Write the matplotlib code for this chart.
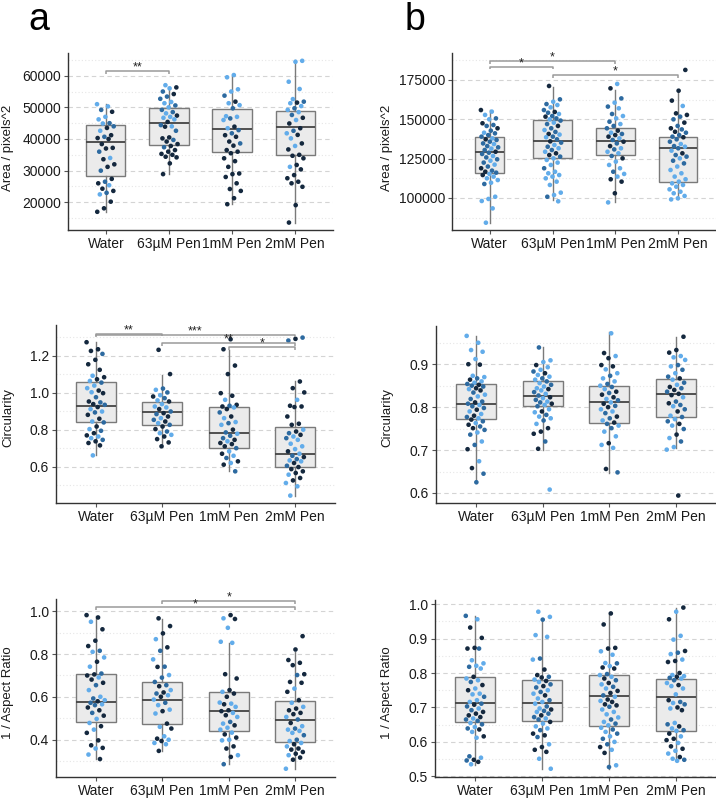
import numpy as np
import matplotlib
matplotlib.use("Agg")
import matplotlib.pyplot as plt

plt.rcParams['font.family'] = ['Liberation Sans', 'DejaVu Sans']

groups = ['Water', '63µM Pen', '1mM Pen', '2mM Pen']

# ---- panel a, area ----
area_a = [
    [51000, 50300, 49200, 48600, 47000, 46200, 45000, 44900, 44000, 43500, 42600, 41200, 40700, 40300, 40000,
     38400, 37200, 37000, 36000, 34000, 33600, 32000, 31200, 30000, 27400, 26500, 26000, 25400, 24300, 23600,
     23000, 22500, 20200, 18100, 17000],
    [57000, 56300, 56000, 55000, 54200, 53400, 52700, 51700, 51300, 50600, 50000, 49200, 48500, 48100, 47400,
     47000, 46700, 46200, 45400, 44400, 44000, 43900, 42600, 40500, 40200, 39700, 39200, 38400, 37800, 37400,
     36500, 36000, 35300, 35000, 34400, 34200, 32300, 28900],
    [60200, 59500, 55700, 55000, 53700, 51800, 51300, 50700, 49700, 47200, 47000, 46500, 46000, 43900, 43400,
     42800, 41800, 41200, 40700, 39200, 38600, 37900, 36500, 36000, 35500, 33900, 33000, 31200, 29100, 28900,
     28000, 26000, 24200, 23600, 21300, 19400],
    [64700, 64400, 58100, 55800, 52600, 51800, 51500, 51300, 50400, 49700, 49200, 48500, 47600, 46700, 46000,
     44900, 43400, 42600, 41800, 41300, 40200, 38600, 37800, 36700, 35000, 34700, 33900, 31800, 31200, 30400,
     28600, 27600, 26500, 26000, 24900, 19100, 13600],
]
area_a_shade = [
    "LLMDLLMLMDLDMDDDDDMLDDDMDMDLDDMLDDD",
    "LDLMDMMLLMLMMLDLLLDMLDMDDMDDDMDDDDDDDD",
    "LLLLMDLLMLLMLDLMMDDDMDDDDDDDDDDDDDDD",
    "LLLLLMDLLMLLMDLDDMLDLDLDDDDDLDDDDDDDD",
]
area_a_med = [38950, 44950, 43050, 43800]
area_a_q1 = [28300, 38000, 36000, 34850]
area_a_q3 = [44400, 49900, 49350, 48850]
area_a_lo = [17050, 28950, 19450, 13600]
area_a_hi = [50950, 56300, 59900, 64950]

# ---- panel b, area ----
area_b = [
    [155900, 154900, 152800, 150600, 150000, 147500, 146400, 145800, 144300, 142800, 141500, 141100, 140000,
     139000, 137900, 137300, 136900, 135800, 134700, 134300, 133000, 132200, 131400, 130500, 129400, 128800,
     128000, 126700, 125800, 124600, 123700, 122500, 121200, 120000, 118900, 117400, 116700, 116100, 115300,
     114600, 113600, 112500, 111400, 109700, 108900, 100800, 99400, 98100, 93400, 84300],
    [171200, 162700, 161200, 159700, 159100, 157600, 155900, 154700, 154200, 153400, 152100, 151700, 150600,
     150000, 149200, 147900, 147000, 145800, 144300, 143200, 142000, 140700, 140300, 139000, 138600, 137300,
     136000, 135200, 133700, 132600, 131600, 130500, 129400, 128400, 127300, 126300, 125200, 124200, 122500,
     121000, 118900, 116700, 115700, 114600, 113600, 112500, 110400, 108300, 103400, 101900, 100800, 97900],
    [172500, 169700, 163300, 160600, 158100, 157000, 153400, 152100, 150600, 148500, 147000, 145800, 144300,
     142800, 141500, 140700, 140000, 139000, 137900, 136900, 135800, 134700, 133000, 131600, 130900, 129400,
     128400, 126700, 125200, 123100, 121000, 118900, 116700, 115300, 113600, 111900, 110400, 103000, 97200],
    [181400, 168200, 161900, 158500, 153800, 152800, 151700, 150000, 147900, 145800, 144300, 143600, 142100,
     141500, 140000, 139000, 138600, 137300, 135800, 134300, 133000, 132600, 131600, 130100, 128400, 127300,
     126300, 125200, 123700, 122000, 120000, 117800, 115700, 113600, 111900, 110400, 109300, 108300, 107200,
     105500, 104000, 103000, 101300, 99800, 99100],
]
area_b_shade = [
    "DLLMLDMMDMLMMMLDMMMLMMLMDMMLMMLMLMDMDMLDLLLLMLLLLL",
    "DMLMLLMDMLMDMLMLMDMLMDLMLMDMLMLMLDDMLLLLMLLLLLLLLLML",
    "LDMLMLMLLMLMMDLMDDLMDMDLMLLMDLLLMLLDDDL",
    "DDDLDDMMDMDMDMMMDMMLMLMLDMMLMMLLLLLLLLLLLLLLL",
]
area_b_med = [129250, 136450, 136250, 131800]
area_b_q1 = [115700, 125200, 127350, 110400]
area_b_q3 = [138750, 149800, 144300, 139000]
area_b_lo = [84300, 98700, 97650, 99150]
area_b_hi = [155950, 170750, 168650, 168650]

# ---- panel a, circularity ----
circ_a = [
    [1.272, 1.234, 1.225, 1.209, 1.177, 1.153, 1.123, 1.091, 1.083, 1.072, 1.063, 1.054, 1.038, 1.024, 1.011,
     1.002, 0.997, 0.975, 0.952, 0.947, 0.938, 0.934, 0.922, 0.911, 0.898, 0.893, 0.880, 0.859, 0.844, 0.839,
     0.817, 0.803, 0.794, 0.781, 0.769, 0.763, 0.754, 0.745, 0.737, 0.728, 0.715, 0.661],
    [1.231, 1.100, 1.022, 1.015, 1.001, 0.986, 0.979, 0.970, 0.958, 0.952, 0.938, 0.925, 0.920, 0.911, 0.898,
     0.889, 0.884, 0.871, 0.862, 0.853, 0.844, 0.835, 0.826, 0.817, 0.803, 0.790, 0.781, 0.772, 0.763, 0.749,
     0.731, 0.710],
    [1.288, 1.234, 1.146, 1.100, 0.997, 0.983, 0.961, 0.934, 0.929, 0.925, 0.920, 0.911, 0.893, 0.871, 0.862,
     0.841, 0.835, 0.826, 0.800, 0.785, 0.778, 0.767, 0.754, 0.745, 0.737, 0.728, 0.722, 0.710, 0.700, 0.683,
     0.670, 0.659, 0.647, 0.629, 0.620, 0.611, 0.575],
    [1.297, 1.290, 1.281, 1.060, 1.024, 1.001, 0.961, 0.929, 0.925, 0.922, 0.871, 0.832, 0.826, 0.800, 0.790,
     0.781, 0.772, 0.763, 0.754, 0.745, 0.724, 0.710, 0.695, 0.683, 0.670, 0.659, 0.652, 0.641, 0.634, 0.629,
     0.620, 0.605, 0.598, 0.587, 0.575, 0.566, 0.557, 0.539, 0.526, 0.512, 0.494, 0.444],
]
circ_a_shade = [
    "DDDMDDDLDDLMLLDLDMDMDMDLLMDDLMDLMDDLLMDDDL",
    "DDMLMLDMLDLLLDMDMDLMDLMDDMLLDDDD",
    "DDDDDDLDMDLDMDLLMLDMLMMDLDDDMLDLMDLDM",
    "MDMDDDLDDDDDDLDMDLMLLLLDLMDMLLDMDDDDLDDLLL",
]
circ_a_med = [0.927, 0.893, 0.781, 0.670]
circ_a_q1 = [0.841, 0.823, 0.701, 0.596]
circ_a_q3 = [1.058, 0.949, 0.922, 0.814]
circ_a_lo = [0.663, 0.710, 0.577, 0.444]
circ_a_hi = [1.272, 1.096, 1.231, 1.064]

# ---- panel b, circularity ----
circ_b = [
    [0.966, 0.950, 0.933, 0.929, 0.912, 0.900, 0.899, 0.873, 0.870, 0.867, 0.864, 0.860, 0.857, 0.854, 0.852,
     0.850, 0.848, 0.844, 0.842, 0.839, 0.834, 0.829, 0.825, 0.819, 0.813, 0.811, 0.808, 0.805, 0.802, 0.798,
     0.794, 0.790, 0.784, 0.780, 0.777, 0.774, 0.771, 0.767, 0.763, 0.759, 0.755, 0.751, 0.747, 0.741, 0.736,
     0.720, 0.712, 0.702, 0.674, 0.658, 0.645, 0.625],
    [0.939, 0.909, 0.905, 0.898, 0.893, 0.887, 0.883, 0.879, 0.875, 0.871, 0.867, 0.864, 0.860, 0.856, 0.852,
     0.848, 0.844, 0.842, 0.839, 0.835, 0.831, 0.827, 0.823, 0.821, 0.817, 0.813, 0.811, 0.808, 0.805, 0.802,
     0.795, 0.790, 0.788, 0.782, 0.778, 0.774, 0.769, 0.761, 0.751, 0.743, 0.738, 0.720, 0.703, 0.608],
    [0.972, 0.926, 0.919, 0.914, 0.898, 0.895, 0.888, 0.879, 0.873, 0.867, 0.860, 0.854, 0.850, 0.847, 0.842,
     0.836, 0.833, 0.829, 0.823, 0.819, 0.816, 0.811, 0.808, 0.803, 0.800, 0.795, 0.790, 0.786, 0.778, 0.774,
     0.769, 0.764, 0.761, 0.757, 0.751, 0.743, 0.732, 0.716, 0.712, 0.705, 0.656, 0.648],
    [0.964, 0.933, 0.927, 0.919, 0.916, 0.910, 0.898, 0.895, 0.887, 0.879, 0.871, 0.867, 0.864, 0.857, 0.852,
     0.847, 0.844, 0.840, 0.836, 0.831, 0.828, 0.823, 0.813, 0.809, 0.805, 0.802, 0.795, 0.790, 0.780, 0.777,
     0.772, 0.767, 0.761, 0.757, 0.749, 0.736, 0.728, 0.720, 0.707, 0.701, 0.594],
]
circ_b_shade = [
    "LLLLLDDLLMDLLMDMMDLDMLLMMDMLMMDLLDMLDMLDMDMLMLMDLDMM",
    "MLLDLLMDLLMLMLMLLDLMLMDLMLMDLMLDLMLLMLDDDMDL",
    "LDLDDDLLMLLMLMLDMDDLMLDMDLLMDMLDMLMLLDLLDM",
    "DDDLLLMLMLMDLMLDMDMDDLMDMLMDLMLMDLMDLMLLD",
]
circ_b_med = [0.807, 0.827, 0.811, 0.830]
circ_b_q1 = [0.772, 0.802, 0.764, 0.778]
circ_b_q3 = [0.855, 0.860, 0.850, 0.865]
circ_b_lo = [0.623, 0.700, 0.647, 0.705]
circ_b_hi = [0.966, 0.939, 0.974, 0.964]

# ---- panel a, 1 / aspect ratio ----
ar_a = [
    [0.981, 0.970, 0.950, 0.915, 0.862, 0.837, 0.815, 0.810, 0.784, 0.764, 0.741, 0.709, 0.705, 0.700, 0.691,
     0.681, 0.666, 0.655, 0.632, 0.601, 0.593, 0.585, 0.580, 0.573, 0.566, 0.562, 0.551, 0.538, 0.526, 0.513,
     0.498, 0.479, 0.464, 0.448, 0.433, 0.398, 0.375, 0.363, 0.360, 0.332, 0.311],
    [0.966, 0.930, 0.896, 0.869, 0.831, 0.815, 0.775, 0.741, 0.740, 0.702, 0.690, 0.670, 0.655, 0.650, 0.632,
     0.621, 0.616, 0.608, 0.601, 0.588, 0.573, 0.562, 0.541, 0.534, 0.523, 0.476, 0.461, 0.453, 0.417, 0.406,
     0.401, 0.395, 0.386, 0.380, 0.349],
    [0.981, 0.966, 0.963, 0.922, 0.857, 0.852, 0.706, 0.686, 0.632, 0.624, 0.616, 0.601, 0.574, 0.569, 0.566,
     0.554, 0.538, 0.534, 0.526, 0.515, 0.507, 0.484, 0.476, 0.468, 0.457, 0.448, 0.434, 0.426, 0.411, 0.401,
     0.398, 0.370, 0.360, 0.329, 0.321, 0.287],
    [0.883, 0.821, 0.772, 0.759, 0.748, 0.706, 0.702, 0.670, 0.666, 0.639, 0.624, 0.585, 0.573, 0.554, 0.546,
     0.538, 0.526, 0.520, 0.507, 0.495, 0.479, 0.464, 0.453, 0.448, 0.442, 0.433, 0.422, 0.401, 0.395, 0.386,
     0.380, 0.370, 0.360, 0.355, 0.344, 0.336, 0.329, 0.318, 0.308, 0.266],
]
ar_a_shade = [
    "DDLDDDMLLDLMDDLDDMLLMLDMLMDDMDLLDLDDDDLLD",
    "DDDLDMLMDLMMMDLDMLDLMLLDLDLDLDLDLLD",
    "DLDLLLDDDLDDLLDLDDLDLMLDLLLDDLLDDLDM",
    "DDDDDDMDDLDDLLDDDDLMDLMLLLMMLLDLDDDDLDDL",
]
ar_a_med = [0.576, 0.587, 0.534, 0.493]
ar_a_q1 = [0.482, 0.473, 0.440, 0.389]
ar_a_q3 = [0.706, 0.672, 0.622, 0.582]
ar_a_lo = [0.311, 0.349, 0.287, 0.266]
ar_a_hi = [0.977, 0.963, 0.852, 0.807]

# ---- panel b, 1 / aspect ratio ----
ar_b = [
    [0.966, 0.956, 0.932, 0.902, 0.873, 0.871, 0.871, 0.837, 0.828, 0.821, 0.818, 0.813, 0.789, 0.784, 0.779,
     0.774, 0.765, 0.755, 0.750, 0.740, 0.738, 0.731, 0.721, 0.716, 0.711, 0.708, 0.703, 0.697, 0.692, 0.687,
     0.682, 0.677, 0.672, 0.668, 0.665, 0.661, 0.655, 0.651, 0.643, 0.639, 0.636, 0.629, 0.616, 0.612, 0.558,
     0.554, 0.548, 0.546, 0.542, 0.535],
    [0.978, 0.963, 0.955, 0.910, 0.905, 0.842, 0.839, 0.810, 0.794, 0.789, 0.787, 0.781, 0.777, 0.774, 0.767,
     0.762, 0.758, 0.750, 0.745, 0.740, 0.735, 0.726, 0.721, 0.716, 0.711, 0.703, 0.697, 0.694, 0.690, 0.687,
     0.682, 0.677, 0.672, 0.668, 0.665, 0.658, 0.653, 0.645, 0.639, 0.634, 0.624, 0.619, 0.614, 0.593, 0.585,
     0.577, 0.571, 0.551, 0.522],
    [0.973, 0.941, 0.873, 0.871, 0.863, 0.853, 0.829, 0.828, 0.820, 0.816, 0.813, 0.797, 0.794, 0.789, 0.784,
     0.779, 0.771, 0.767, 0.760, 0.755, 0.748, 0.742, 0.735, 0.731, 0.723, 0.719, 0.716, 0.709, 0.706, 0.702,
     0.694, 0.687, 0.680, 0.671, 0.665, 0.658, 0.653, 0.648, 0.641, 0.636, 0.629, 0.624, 0.616, 0.609, 0.600,
     0.593, 0.585, 0.577, 0.568, 0.532, 0.527],
    [0.990, 0.978, 0.956, 0.908, 0.897, 0.864, 0.859, 0.855, 0.839, 0.835, 0.832, 0.800, 0.794, 0.791, 0.789,
     0.786, 0.784, 0.779, 0.771, 0.765, 0.762, 0.755, 0.738, 0.721, 0.716, 0.713, 0.709, 0.700, 0.697, 0.692,
     0.655, 0.651, 0.645, 0.639, 0.634, 0.632, 0.624, 0.616, 0.609, 0.605, 0.597, 0.587, 0.580, 0.574, 0.566,
     0.556, 0.551, 0.548, 0.545],
]
ar_b_shade = [
    "MLDDDDMLLLMLDLLMDLDLLMLLMDMLMDDDDLMMLMLMDLDLMLDMDL",
    "LLMLLMLDDMDLDLMDMLMLDLMLLMLDMLMDMLMDLLLMDDMLDDDLL",
    "DDDDLLLMLDDMLLDMDLMLDDMLDLDDDMLLLLMLMLLMLMLMLMDLDLM",
    "DLDLLDMLLDDDLLDMLMLDLLLDMLMDLDLMDLMLDLDDLDDLLDLML",
]
ar_b_med = [0.713, 0.713, 0.734, 0.730]
ar_b_q1 = [0.659, 0.662, 0.646, 0.633]
ar_b_q3 = [0.787, 0.779, 0.793, 0.783]
ar_b_lo = [0.532, 0.522, 0.522, 0.551]
ar_b_hi = [0.965, 0.955, 0.975, 0.990]

# significance brackets: (from, to, y, label)
sig_area_a = [(0, 1, 61500, '**')]
sig_area_b = [(0, 2, 187000, '*'), (0, 1, 183400, '*'), (1, 3, 178000, '*')]
sig_circ_a = [(0, 1, 1.318, '**'), (0, 3, 1.313, '***'), (1, 3, 1.268, '**'), (2, 3, 1.247, '*')]
sig_ar_a = [(1, 3, 1.047, '*'), (0, 3, 1.017, '*')]

shade_col = {'D': '#14283e', 'M': '#2d6aa0', 'L': '#62acea'}

W, H = 716, 801
fig = plt.figure(figsize=(W / 100, H / 100), dpi=100)


def px_axes(left, top, right, bottom):
    return fig.add_axes([left / W, 1 - bottom / H, (right - left) / W, (bottom - top) / H])


def panel(ax, data, shades, med, q1, q3, lo, hi, ylim, major, minor, fmt, widths, sigs=()):
    ax.set_xlim(-0.6, 3.6)
    ax.set_ylim(*ylim)
    for v in major:
        ax.axhline(v, color='#d4d4d4', lw=0.8, dashes=(4, 3), zorder=0)
    for v in minor:
        ax.axhline(v, color='#e6e6e6', lw=0.8, dashes=(1, 2), zorder=0)
    stats = [dict(med=med[i], q1=q1[i], q3=q3[i], whislo=lo[i], whishi=hi[i], fliers=[])
             for i in range(4)]
    ax.bxp(stats, positions=range(4), widths=widths, showcaps=False, patch_artist=True,
           boxprops=dict(facecolor='#ebebeb', edgecolor='#7a7a7a', lw=1.0),
           whiskerprops=dict(color='#7a7a7a', lw=1.0),
           medianprops=dict(color='#444444', lw=1.3), zorder=2)
    for i, vals in enumerate(data):
        n = len(vals)
        jit = ((np.arange(n) * 0.618034 + 0.3 * i) % 1 - 0.5) * 0.28
        cols = [shade_col[c] for c in shades[i]]
        ax.scatter(i + jit, vals, s=11, c=cols, linewidths=0, zorder=3)
    span = ylim[1] - ylim[0]
    for a, b, y, lab in sigs:
        tip = span * 0.015
        ax.plot([a, a, b, b], [y - tip, y, y, y - tip], color='#9a9a9a', lw=1.1,
                solid_capstyle='butt', zorder=4, clip_on=False)
        ax.text((a + b) / 2, y + span * 0.002, lab, ha='center', va='baseline',
                fontsize=9, color='#222222', zorder=5)
    ax.set_yticks(major)
    ax.set_yticklabels([fmt.format(v) for v in major])
    ax.set_xticks(range(4))
    ax.set_xticklabels(groups)
    for s in ['top', 'right']:
        ax.spines[s].set_visible(False)
    for s in ['left', 'bottom']:
        ax.spines[s].set_color('#333333')
        ax.spines[s].set_linewidth(1.0)
    ax.tick_params(axis='both', length=3, width=0.8, color='#555555', labelsize=10,
                   labelcolor='#1a1a1a', pad=2)


ax1 = px_axes(68, 53, 333, 230)
panel(ax1, area_a, area_a_shade, area_a_med, area_a_q1, area_a_q3, area_a_lo, area_a_hi,
      (11250, 67170), [20000, 30000, 40000, 50000, 60000],
      [15000, 25000, 35000, 45000, 55000, 65000], '{:.0f}', 0.62, sig_area_a)

ax2 = px_axes(452, 53, 716, 230)
panel(ax2, area_b, area_b_shade, area_b_med, area_b_q1, area_b_q3, area_b_lo, area_b_hi,
      (79660, 192160), [100000, 125000, 150000, 175000],
      [87500, 112500, 137500, 162500, 187500], '{:.0f}', [0.46, 0.63, 0.61, 0.61], sig_area_b)

ax3 = px_axes(56, 325, 335, 503)
panel(ax3, circ_a, circ_a_shade, circ_a_med, circ_a_q1, circ_a_q3, circ_a_lo, circ_a_hi,
      (0.404, 1.365), [0.6, 0.8, 1.0, 1.2], [0.5, 0.7, 0.9, 1.1, 1.3], '{:.1f}', 0.6, sig_circ_a)

ax4 = px_axes(436, 326, 716, 503)
panel(ax4, circ_b, circ_b_shade, circ_b_med, circ_b_q1, circ_b_q3, circ_b_lo, circ_b_hi,
      (0.5767, 0.989), [0.6, 0.7, 0.8, 0.9], [0.65, 0.75, 0.85, 0.95], '{:.1f}', 0.6)

ax5 = px_axes(56, 599, 335, 777)
panel(ax5, ar_a, ar_a_shade, ar_a_med, ar_a_q1, ar_a_q3, ar_a_lo, ar_a_hi,
      (0.2275, 1.056), [0.4, 0.6, 0.8, 1.0], [0.3, 0.5, 0.7, 0.9], '{:.1f}', 0.6, sig_ar_a)

ax6 = px_axes(435, 600, 716, 777)
panel(ax6, ar_b, ar_b_shade, ar_b_med, ar_b_q1, ar_b_q3, ar_b_lo, ar_b_hi,
      (0.498, 1.012), [0.5, 0.6, 0.7, 0.8, 0.9, 1.0], [0.55, 0.65, 0.75, 0.85, 0.95], '{:.1f}', 0.6)

# y labels
for x, y, lab in [(8, 148, 'Area / pixels^2'), (387, 148, 'Area / pixels^2'),
                  (8, 418, 'Circularity'), (387, 418, 'Circularity'),
                  (8, 693, '1 / Aspect Ratio'), (387, 693, '1 / Aspect Ratio')]:
    fig.text(x / W, 1 - y / H, lab, rotation=90, ha='center', va='center', fontsize=9.5, color='#1a1a1a')

fig.text(39 / W, 1 - 30 / H, 'a', ha='center', va='baseline', fontsize=27)
fig.text(415 / W, 1 - 30 / H, 'b', ha='center', va='baseline', fontsize=27)

fig.savefig('out.png', dpi=100)
